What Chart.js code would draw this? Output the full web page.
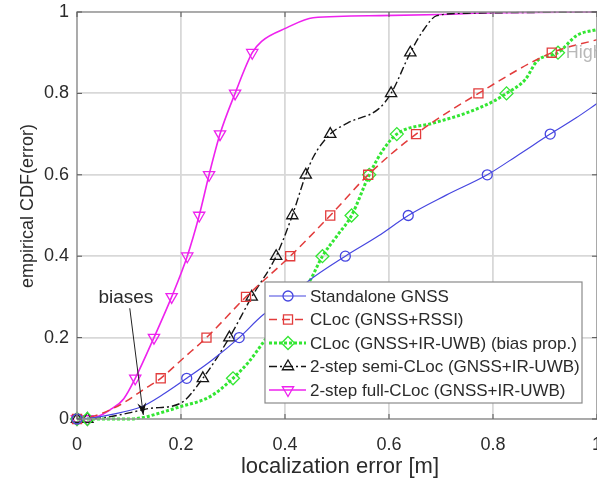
<!DOCTYPE html>
<html>
<head>
<meta charset="utf-8">
<script src="https://cdn.jsdelivr.net/npm/chart.js@4.4.0/dist/chart.umd.min.js"></script>
<style>
  html, body { margin: 0; padding: 0; background: #fff; overflow: hidden; }
  canvas { display: block; }
</style>
</head>
<body>
<canvas id="cdfChart" width="597" height="480"></canvas>
<script>
// empirical CDF of the localization error, one curve per method
const gnssX = [0, 0.03, 0.07, 0.124, 0.165, 0.211, 0.26, 0.312, 0.358, 0.41, 0.444, 0.516, 0.58, 0.637, 0.71, 0.789, 0.85, 0.91, 0.96, 1.0];
const gnssY = [0, 0.003, 0.012, 0.03, 0.06, 0.1, 0.145, 0.2, 0.256, 0.3, 0.338, 0.4, 0.45, 0.5, 0.55, 0.6, 0.65, 0.7, 0.74, 0.775];
const gnssMarks = [0, 5, 7, 9, 11, 13, 15, 17];

const rssiX = [0, 0.02, 0.05, 0.09, 0.125, 0.161, 0.205, 0.249, 0.325, 0.41, 0.487, 0.56, 0.652, 0.772, 0.913, 1.0];
const rssiY = [0, 0.003, 0.015, 0.04, 0.07, 0.1, 0.15, 0.2, 0.3, 0.4, 0.5, 0.6, 0.7, 0.8, 0.9, 0.932];
const rssiMarks = [0, 5, 7, 8, 9, 10, 11, 12, 13, 14];

const uwbX = [0, 0.02, 0.06, 0.1, 0.128, 0.16, 0.198, 0.256, 0.30, 0.33, 0.362, 0.40, 0.447, 0.472, 0.50, 0.528, 0.562, 0.587, 0.615, 0.685, 0.749, 0.80, 0.826, 0.862, 0.885, 0.925, 0.962, 1.0];
const uwbY = [0, 0, 0, 0, 0.004, 0.015, 0.03, 0.055, 0.1, 0.14, 0.195, 0.26, 0.338, 0.4, 0.45, 0.5, 0.6, 0.658, 0.70, 0.727, 0.752, 0.78, 0.8, 0.834, 0.88, 0.9, 0.943, 0.957];
const uwbMarks = [0, 1, 8, 13, 15, 16, 18, 22, 25];

const semiX = [0, 0.02, 0.06, 0.1, 0.14, 0.198, 0.242, 0.293, 0.336, 0.383, 0.414, 0.44, 0.455, 0.487, 0.52, 0.58, 0.604, 0.641, 0.667, 0.692, 0.75, 1.0];
const semiY = [0, 0, 0.005, 0.015, 0.026, 0.038, 0.1, 0.2, 0.3, 0.4, 0.5, 0.6, 0.645, 0.7, 0.727, 0.762, 0.8, 0.9, 0.957, 0.991, 0.997, 1.0];
const semiMarks = [0, 1, 6, 7, 8, 9, 10, 11, 13, 16, 17];

const fullX = [0, 0.02, 0.04, 0.063, 0.09, 0.112, 0.148, 0.182, 0.212, 0.235, 0.254, 0.275, 0.304, 0.337, 0.355, 0.403, 0.454, 0.583, 0.7, 0.8, 1.0];
const fullY = [0, 0, 0.006, 0.022, 0.05, 0.1, 0.2, 0.3, 0.4, 0.5, 0.6, 0.7, 0.8, 0.9, 0.928, 0.961, 0.986, 0.991, 0.994, 0.998, 1.0];
const fullMarks = [0, 1, 5, 6, 7, 8, 9, 10, 11, 12, 13];

const labels = [
    'Standalone GNSS',
    'CLoc (GNSS+RSSI)',
    'CLoc (GNSS+IR-UWB) (bias prop.)',
    '2-step semi-CLoc (GNSS+IR-UWB)',
    '2-step full-CLoc (GNSS+IR-UWB)'
];
const axisTicks = [0, 0.2, 0.4, 0.6, 0.8, 1];

const FONT = '"Liberation Sans", Arial, Helvetica, sans-serif';
const TEXT = '#2b2b2b';

const styles = [
    { color: '#4646e0', width: 1.2, dash: [],            point: 'circle',   radius: 5,   rot: 0 },
    { color: '#e23c3c', width: 1.5, dash: [8, 5],        point: 'rect',     radius: 6.4, rot: 0 },
    { color: '#33e633', width: 3,   dash: [3, 2],        point: 'rectRot',  radius: 6.5, rot: 0 },
    { color: '#151515', width: 1.4, dash: [8, 3, 2, 3],  point: 'triangle', radius: 6.5, rot: 0 },
    { color: '#ee22ee', width: 1.6, dash: [],            point: 'triangle', radius: 6.5, rot: 180 }
];

function makeDataset(i, xs, ys, marks) {
    const st = styles[i];
    const radii = xs.map((_, k) => marks.includes(k) ? st.radius : 0);
    return {
        label: labels[i],
        data: xs.map((x, k) => ({ x: x, y: ys[k] })),
        borderColor: st.color,
        borderWidth: st.width,
        borderDash: st.dash,
        pointStyle: st.point,
        pointRotation: st.rot,
        pointRadius: radii,
        pointBorderColor: st.color,
        pointBackgroundColor: 'rgba(0,0,0,0)',
        pointBorderWidth: 1.3,
        cubicInterpolationMode: 'monotone',
        fill: false,
        clip: 10
    };
}

// legend, annotation, frame and axis titles
const decorations = {
    id: 'decorations',
    afterDatasetsDraw(chart) {
        const ctx = chart.ctx;
        const a = chart.chartArea;
        const xs = chart.scales.x, ys = chart.scales.y;

        // frame with inward ticks
        ctx.save();
        ctx.strokeStyle = '#9a9a9a';
        ctx.lineWidth = 1.5;
        ctx.setLineDash([]);
        ctx.strokeRect(a.left, a.top, a.right - a.left, a.bottom - a.top);
        ctx.strokeStyle = '#555';
        ctx.lineWidth = 1;
        axisTicks.forEach(t => {
            const px = xs.getPixelForValue(t);
            const py = ys.getPixelForValue(t);
            ctx.beginPath();
            ctx.moveTo(px, a.bottom); ctx.lineTo(px, a.bottom - 5);
            ctx.moveTo(px, a.top); ctx.lineTo(px, a.top + 5);
            ctx.moveTo(a.left, py); ctx.lineTo(a.left + 5, py);
            ctx.moveTo(a.right, py); ctx.lineTo(a.right - 5, py);
            ctx.stroke();
        });

        // stray grey text label near the top right
        ctx.fillStyle = '#b8b8b8';
        ctx.font = '18px ' + FONT;
        ctx.textAlign = 'left';
        ctx.textBaseline = 'middle';
        ctx.fillText('High', xs.getPixelForValue(0.94), ys.getPixelForValue(0.9));

        // "biases" arrow
        const sx = xs.getPixelForValue(0.1015), sy = ys.getPixelForValue(0.272);
        const tx = xs.getPixelForValue(0.1275), ty = ys.getPixelForValue(0.01);
        const ang = Math.atan2(ty - sy, tx - sx);
        ctx.strokeStyle = '#222';
        ctx.fillStyle = '#111';
        ctx.lineWidth = 1;
        ctx.beginPath();
        ctx.moveTo(sx, sy);
        ctx.lineTo(tx, ty);
        ctx.stroke();
        ctx.beginPath();
        ctx.moveTo(tx, ty);
        ctx.lineTo(tx - 13 * Math.cos(ang - 0.35), ty - 13 * Math.sin(ang - 0.35));
        ctx.lineTo(tx - 8 * Math.cos(ang), ty - 8 * Math.sin(ang));
        ctx.lineTo(tx - 13 * Math.cos(ang + 0.35), ty - 13 * Math.sin(ang + 0.35));
        ctx.closePath();
        ctx.fill();
        ctx.fillStyle = TEXT;
        ctx.font = '19px ' + FONT;
        ctx.textAlign = 'center';
        ctx.fillText('biases', xs.getPixelForValue(0.094), ys.getPixelForValue(0.299));

        // legend box
        const bx = 265, by = 282, bw = 317, bh = 121;
        ctx.fillStyle = '#fff';
        ctx.fillRect(bx, by, bw, bh);
        ctx.strokeStyle = '#8a8a8a';
        ctx.lineWidth = 1.2;
        ctx.strokeRect(bx, by, bw, bh);
        ctx.font = '17px ' + FONT;
        ctx.textAlign = 'left';
        chart.data.datasets.forEach((ds, i) => {
            const st = styles[i];
            const ry = 296 + i * 23.5;
            ctx.strokeStyle = st.color;
            ctx.lineWidth = st.width;
            ctx.setLineDash(st.dash);
            ctx.beginPath();
            ctx.moveTo(269, ry);
            ctx.lineTo(306, ry);
            ctx.stroke();
            ctx.setLineDash([]);
            ctx.lineWidth = 1.3;
            ctx.fillStyle = 'rgba(0,0,0,0)';
            Chart.helpers.drawPoint(ctx, {
                pointStyle: st.point, rotation: st.rot, radius: st.radius, borderWidth: 1.3
            }, 288, ry);
            ctx.fillStyle = TEXT;
            ctx.fillText(ds.label, 310, ry + 1);
        });
        ctx.restore();
    },
    afterDraw(chart) {
        const ctx = chart.ctx;
        const a = chart.chartArea;
        ctx.save();
        ctx.fillStyle = TEXT;
        ctx.textAlign = 'center';
        ctx.textBaseline = 'middle';
        ctx.font = '22px ' + FONT;
        ctx.fillText('localization error [m]', (a.left + a.right) / 2 + 3, 467);
        ctx.translate(28, 206);
        ctx.rotate(-Math.PI / 2);
        ctx.font = '18px ' + FONT;
        ctx.fillText('empirical CDF(error)', 0, 0);
        ctx.restore();
    }
};

function initCdfChart() {
    const ctx = document.getElementById('cdfChart').getContext('2d');
    const tickFont = { family: FONT, size: 18 };
    const fmt = v => String(+v.toFixed(1));
    new Chart(ctx, {
        type: 'line',
        data: {
            datasets: [
                makeDataset(0, gnssX, gnssY, gnssMarks),
                makeDataset(1, rssiX, rssiY, rssiMarks),
                makeDataset(2, uwbX, uwbY, uwbMarks),
                makeDataset(3, semiX, semiY, semiMarks),
                makeDataset(4, fullX, fullY, fullMarks)
            ]
        },
        options: {
            responsive: false,
            animation: false,
            devicePixelRatio: 1,
            layout: { autoPadding: false, padding: { top: 12, right: 0, bottom: 0, left: 0 } },
            plugins: { legend: { display: false }, tooltip: { enabled: false } },
            scales: {
                x: {
                    type: 'linear',
                    min: 0,
                    max: 1,
                    afterBuildTicks: s => { s.ticks = axisTicks.map(v => ({ value: v })); },
                    ticks: { font: tickFont, color: TEXT, padding: 15, maxRotation: 0, callback: fmt },
                    grid: { color: '#d8d8d8', lineWidth: 1.8, drawTicks: false },
                    border: { display: false },
                    afterFit: s => { s.height = 61; s.paddingLeft = 0; s.paddingRight = 0; }
                },
                y: {
                    type: 'linear',
                    min: 0,
                    max: 1,
                    afterBuildTicks: s => { s.ticks = axisTicks.map(v => ({ value: v })); },
                    ticks: { font: tickFont, color: TEXT, padding: 8, callback: fmt },
                    grid: { color: '#d8d8d8', lineWidth: 1.8, drawTicks: false },
                    border: { display: false },
                    afterFit: s => { s.width = 77; s.paddingTop = 0; s.paddingBottom = 0; }
                }
            }
        },
        plugins: [decorations]
    });
}

document.addEventListener('DOMContentLoaded', initCdfChart);
</script>
</body>
</html>
